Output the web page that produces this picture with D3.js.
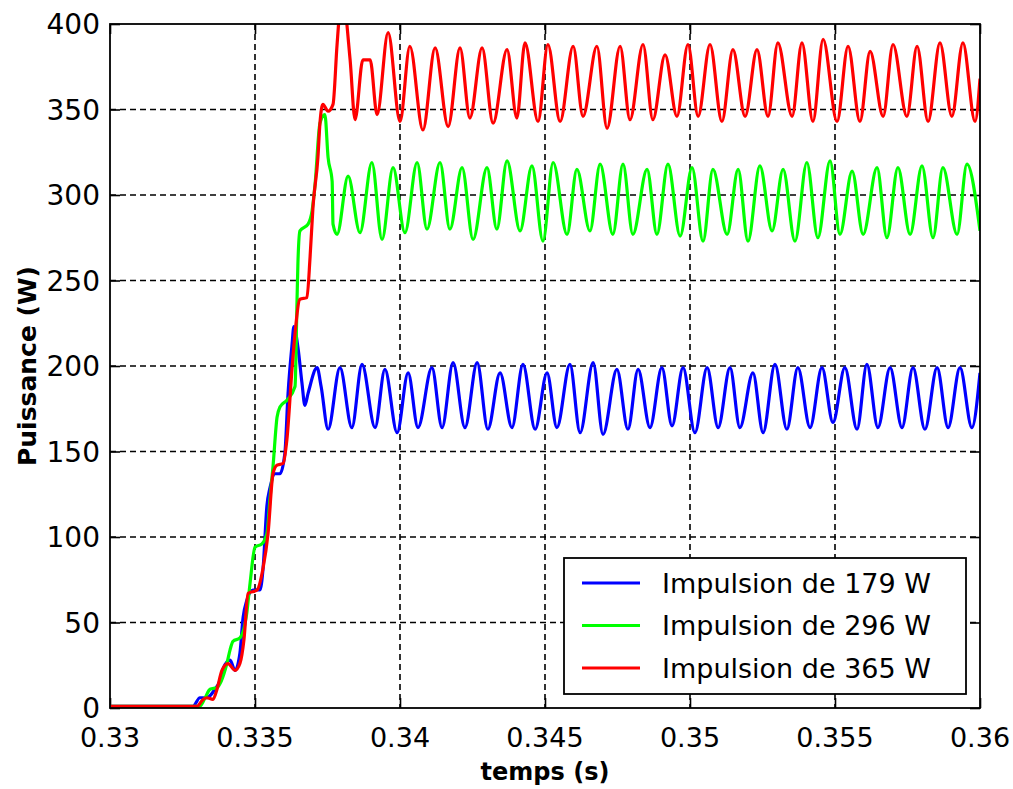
<!DOCTYPE html>
<html>
<head>
<meta charset="utf-8">
<script src="https://cdn.jsdelivr.net/npm/d3@7"></script>
<style>
  body { margin: 0; background: #fff; }
  text { font-family: "DejaVu Sans", sans-serif; fill: #000; }
</style>
</head>
<body>
<div id="chart"></div>
<script>
// data (time in s, power in W)
var tBlue = [0.33000,0.33286,0.33310,0.33334,0.33362,0.33379,0.33390,0.33414,0.33431,0.33448,0.33459,0.33472,0.33493,0.33517,0.33528,0.33541,0.33552,0.33569,0.33586,0.33603,0.33614,0.33628,0.33634,0.33648,0.33662,0.33672,0.33683,0.33714,0.33728,0.33752,0.33793,0.33834,0.33869,0.33914,0.33948,0.33990,0.34028,0.34062,0.34110,0.34145,0.34183,0.34224,0.34266,0.34303,0.34345,0.34386,0.34424,0.34466,0.34507,0.34541,0.34586,0.34621,0.34666,0.34700,0.34748,0.34786,0.34821,0.34862,0.34903,0.34938,0.34976,0.35017,0.35059,0.35097,0.35138,0.35172,0.35217,0.35252,0.35293,0.35334,0.35372,0.35414,0.35455,0.35493,0.35534,0.35576,0.35610,0.35648,0.35690,0.35731,0.35769,0.35810,0.35852,0.35890,0.35931,0.35972,0.36000];
var pBlue = [1,1,6,6,11,16,23,28,22,32,53,63,69,69,82,118,129,137,137,149,184,213,223,211,190,177,184,199,188,163,199,164,201,164,198,161,196,164,199,164,202,164,202,163,196,164,201,163,196,164,201,161,202,160,198,163,198,164,199,165,199,161,199,164,199,164,196,161,201,163,199,164,199,167,199,163,201,164,199,164,199,163,199,164,199,164,196];

var tGreen = [0.33000,0.33310,0.33328,0.33345,0.33369,0.33403,0.33414,0.33424,0.33448,0.33472,0.33483,0.33500,0.33524,0.33541,0.33552,0.33562,0.33576,0.33586,0.33610,0.33638,0.33645,0.33648,0.33655,0.33683,0.33697,0.33707,0.33724,0.33741,0.33752,0.33766,0.33769,0.33783,0.33821,0.33862,0.33903,0.33938,0.33976,0.34017,0.34059,0.34093,0.34138,0.34172,0.34214,0.34252,0.34300,0.34334,0.34369,0.34414,0.34455,0.34493,0.34528,0.34576,0.34610,0.34655,0.34690,0.34734,0.34769,0.34803,0.34852,0.34886,0.34924,0.34966,0.35007,0.35045,0.35079,0.35128,0.35166,0.35200,0.35241,0.35283,0.35321,0.35362,0.35403,0.35441,0.35483,0.35517,0.35559,0.35597,0.35645,0.35679,0.35717,0.35759,0.35800,0.35838,0.35872,0.35921,0.35955,0.36000];
var pGreen = [1,1,6,11,12,26,34,39,41,56,73,94,96,102,123,141,170,176,180,188,239,260,279,283,291,306,342,347,322,308,283,277,311,278,319,274,316,278,319,280,319,280,316,274,316,280,320,279,317,273,319,277,315,279,318,277,318,277,315,277,318,276,316,273,315,277,315,273,317,279,315,273,319,275,320,277,314,277,316,275,316,277,317,275,316,277,318,279];

var tRed = [0.33000,0.33300,0.33321,0.33334,0.33355,0.33369,0.33386,0.33407,0.33431,0.33448,0.33462,0.33476,0.33507,0.33528,0.33545,0.33562,0.33576,0.33597,0.33610,0.33628,0.33638,0.33655,0.33679,0.33690,0.33700,0.33717,0.33724,0.33734,0.33752,0.33769,0.33783,0.33800,0.33828,0.33845,0.33872,0.33897,0.33921,0.33959,0.34000,0.34034,0.34079,0.34121,0.34166,0.34207,0.34241,0.34283,0.34321,0.34369,0.34403,0.34431,0.34476,0.34510,0.34552,0.34597,0.34631,0.34679,0.34714,0.34759,0.34793,0.34838,0.34872,0.34914,0.34955,0.34993,0.35028,0.35069,0.35110,0.35148,0.35190,0.35231,0.35269,0.35303,0.35352,0.35386,0.35424,0.35459,0.35507,0.35545,0.35586,0.35621,0.35666,0.35700,0.35748,0.35783,0.35821,0.35862,0.35903,0.35941,0.35983,0.36000];
var pRed = [1,1,5,6,5,11,22,26,22,26,40,67,69,82,102,137,142,143,157,199,219,239,240,264,293,322,342,353,349,353,388,418,379,344,379,379,347,395,343,387,338,386,340,386,345,386,342,385,345,389,343,388,343,387,346,387,339,387,344,388,344,382,346,388,346,388,343,385,346,385,346,389,346,389,343,391,343,387,343,384,346,388,346,387,343,389,346,389,343,368];

var seriesNames = ["Impulsion de 179 W", "Impulsion de 296 W", "Impulsion de 365 W"];
var seriesColors = ["#0000ff", "#00ff00", "#ff0000"];
var xTicks = [0.33, 0.335, 0.34, 0.345, 0.35, 0.355, 0.36];
var xTickLabels = ["0.33", "0.335", "0.34", "0.345", "0.35", "0.355", "0.36"];
var yTicks = [0, 50, 100, 150, 200, 250, 300, 350, 400];

var width = 1013, height = 789;
var margin = {left: 110, top: 24, right: 33, bottom: 81};
var pw = width - margin.left - margin.right;
var ph = height - margin.top - margin.bottom;

var svg = d3.select("#chart").append("svg")
    .attr("width", width)
    .attr("height", height);

var x = d3.scaleLinear().domain([0.33, 0.36]).range([0, pw]);
var y = d3.scaleLinear().domain([0, 400]).range([ph, 0]);

var g = svg.append("g")
    .attr("transform", "translate(" + margin.left + "," + margin.top + ")");

svg.append("defs").append("clipPath").attr("id", "plotclip")
  .append("rect").attr("width", pw).attr("height", ph);

// dashed grid
g.append("g").selectAll("line.vg")
  .data(xTicks.slice(1, -1))
  .enter().append("line")
    .attr("x1", d => x(d)).attr("x2", d => x(d))
    .attr("y1", 0).attr("y2", ph)
    .attr("stroke", "#000").attr("stroke-width", 1.6)
    .attr("stroke-dasharray", "6,4");

g.append("g").selectAll("line.hg")
  .data(yTicks.slice(1, -1))
  .enter().append("line")
    .attr("x1", 0).attr("x2", pw)
    .attr("y1", d => y(d)).attr("y2", d => y(d))
    .attr("stroke", "#000").attr("stroke-width", 1.6)
    .attr("stroke-dasharray", "6,4");

// inward ticks on all four sides
var tickLen = 10;
var bottomAxis = d3.axisBottom(x).tickValues(xTicks).tickSize(-tickLen).tickFormat("");
var topAxis = d3.axisTop(x).tickValues(xTicks).tickSize(-tickLen).tickFormat("");
var leftAxis = d3.axisLeft(y).tickValues(yTicks).tickSize(-tickLen).tickFormat("");
var rightAxis = d3.axisRight(y).tickValues(yTicks).tickSize(-tickLen).tickFormat("");

[[bottomAxis, "translate(0," + ph + ")"], [topAxis, null],
 [leftAxis, null], [rightAxis, "translate(" + pw + ",0)"]].forEach(function(a){
  var ax = g.append("g").call(a[0]);
  if (a[1]) ax.attr("transform", a[1]);
  ax.select(".domain").remove();
  ax.selectAll("line").attr("stroke", "#000").attr("stroke-width", 1.6);
});

// tick labels
g.append("g").selectAll("text")
  .data(xTicks)
  .enter().append("text")
    .attr("x", d => x(d))
    .attr("y", ph + 39)
    .attr("text-anchor", "middle")
    .style("font-size", "27px")
    .text((d, i) => xTickLabels[i]);

g.append("g").selectAll("text")
  .data(yTicks)
  .enter().append("text")
    .attr("x", -10)
    .attr("y", d => y(d))
    .attr("dy", "0.36em")
    .attr("text-anchor", "end")
    .style("font-size", "28px")
    .text(d => d);

// series
var line = d3.line().x(d => x(d[0])).y(d => y(d[1])).curve(d3.curveMonotoneX);
var series = [
  d3.zip(tBlue, pBlue),
  d3.zip(tGreen, pGreen),
  d3.zip(tRed, pRed)
];

g.append("g").attr("clip-path", "url(#plotclip)")
  .selectAll("path")
  .data(series)
  .enter().append("path")
    .attr("d", line)
    .attr("fill", "none")
    .attr("stroke", (d, i) => seriesColors[i])
    .attr("stroke-width", 3.2);

// frame
g.append("rect")
  .attr("width", pw).attr("height", ph)
  .attr("fill", "none").attr("stroke", "#000").attr("stroke-width", 1.8);

// axis titles
svg.append("text")
  .attr("x", margin.left + pw / 2)
  .attr("y", 780)
  .attr("text-anchor", "middle")
  .style("font-size", "24px")
  .style("font-weight", "bold")
  .text("temps (s)");

svg.append("text")
  .attr("transform", "translate(36," + (margin.top + ph / 2) + ") rotate(-90)")
  .attr("text-anchor", "middle")
  .style("font-size", "25px")
  .style("font-weight", "bold")
  .text("Puissance (W)");

// legend
var legend = g.append("g").attr("transform", "translate(" + (564 - margin.left) + "," + (558 - margin.top) + ")");
legend.append("rect")
  .attr("width", 402).attr("height", 136)
  .attr("fill", "#fff").attr("stroke", "#000").attr("stroke-width", 1.8);

var rows = legend.selectAll("g.row")
  .data(seriesNames)
  .enter().append("g")
    .attr("transform", (d, i) => "translate(0," + (25 + i * 42.5) + ")");

rows.append("line")
  .attr("x1", 18).attr("x2", 76)
  .attr("stroke", (d, i) => seriesColors[i])
  .attr("stroke-width", 3.2);

rows.append("text")
  .attr("x", 98)
  .attr("dy", "0.36em")
  .style("font-size", "27px")
  .text(d => d);
</script>
</body>
</html>
